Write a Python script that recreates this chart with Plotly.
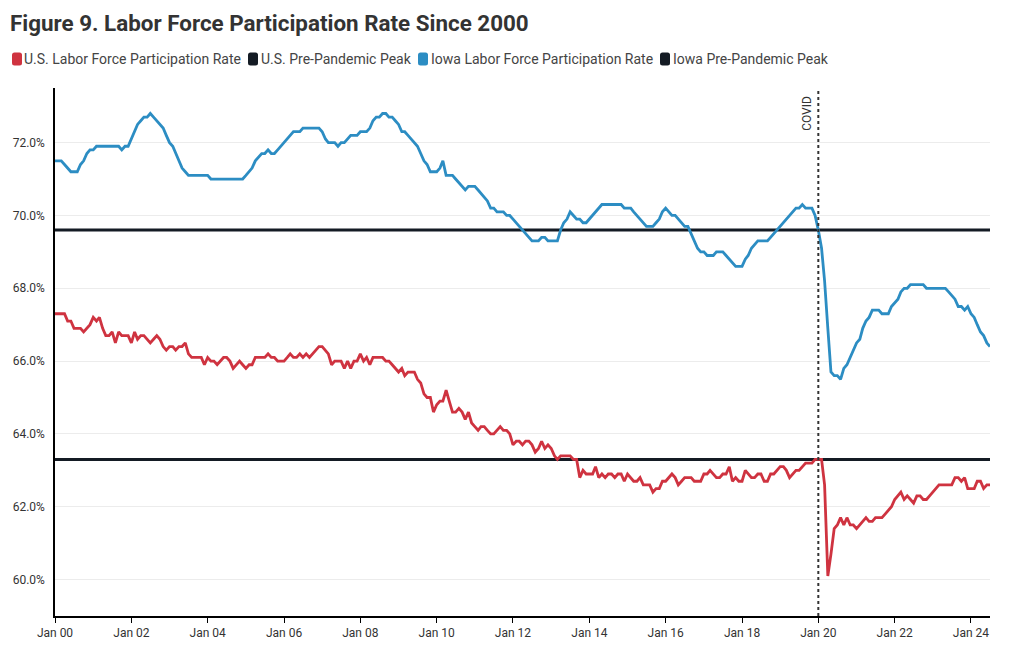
import pandas as pd
import plotly.graph_objects as go

# ---------------- data ----------------
start_month = "2000-01-01"

us_lfpr = [
    67.3, 67.3, 67.3, 67.3, 67.1, 67.1, 66.9, 66.9, 66.9, 66.8, 66.9, 67.0,  # 2000
    67.2, 67.1, 67.2, 66.9, 66.7, 66.7, 66.8, 66.5, 66.8, 66.7, 66.7, 66.7,  # 2001
    66.5, 66.8, 66.6, 66.7, 66.7, 66.6, 66.5, 66.6, 66.7, 66.6, 66.4, 66.3,  # 2002
    66.4, 66.4, 66.3, 66.4, 66.4, 66.5, 66.2, 66.1, 66.1, 66.1, 66.1, 65.9,  # 2003
    66.1, 66.0, 66.0, 65.9, 66.0, 66.1, 66.1, 66.0, 65.8, 65.9, 66.0, 65.9,  # 2004
    65.8, 65.9, 65.9, 66.1, 66.1, 66.1, 66.1, 66.2, 66.1, 66.1, 66.0, 66.0,  # 2005
    66.0, 66.1, 66.2, 66.1, 66.1, 66.2, 66.1, 66.2, 66.1, 66.2, 66.3, 66.4,  # 2006
    66.4, 66.3, 66.2, 65.9, 66.0, 66.0, 66.0, 65.8, 66.0, 65.8, 66.0, 66.0,  # 2007
    66.2, 66.0, 66.1, 65.9, 66.1, 66.1, 66.1, 66.1, 66.0, 66.0, 65.9, 65.8,  # 2008
    65.7, 65.8, 65.6, 65.7, 65.7, 65.7, 65.5, 65.4, 65.1, 65.0, 65.0, 64.6,  # 2009
    64.8, 64.9, 64.9, 65.2, 64.9, 64.6, 64.6, 64.7, 64.6, 64.4, 64.6, 64.3,  # 2010
    64.2, 64.1, 64.2, 64.2, 64.1, 64.0, 64.0, 64.1, 64.2, 64.1, 64.1, 64.0,  # 2011
    63.7, 63.8, 63.8, 63.7, 63.8, 63.8, 63.7, 63.5, 63.6, 63.8, 63.6, 63.7,  # 2012
    63.6, 63.4, 63.3, 63.4, 63.4, 63.4, 63.4, 63.3, 63.3, 62.8, 63.0, 62.9,  # 2013
    62.9, 62.9, 63.1, 62.8, 62.9, 62.8, 62.9, 62.9, 62.8, 62.9, 62.9, 62.7,  # 2014
    62.9, 62.8, 62.7, 62.7, 62.8, 62.6, 62.6, 62.6, 62.4, 62.5, 62.5, 62.7,  # 2015
    62.7, 62.8, 62.9, 62.8, 62.6, 62.7, 62.8, 62.8, 62.8, 62.7, 62.7, 62.7,  # 2016
    62.9, 62.9, 63.0, 62.9, 62.8, 62.8, 62.9, 62.9, 63.1, 62.7, 62.8, 62.7,  # 2017
    62.7, 63.0, 62.9, 62.8, 62.8, 62.9, 62.9, 62.7, 62.7, 62.9, 62.9, 63.0,  # 2018
    63.1, 63.1, 63.0, 62.8, 62.9, 63.0, 63.0, 63.1, 63.2, 63.2, 63.2, 63.3,  # 2019
    63.3, 63.3, 62.6, 60.1, 60.7, 61.4, 61.5, 61.7, 61.5, 61.7, 61.5, 61.5,  # 2020
    61.4, 61.5, 61.6, 61.7, 61.6, 61.6, 61.7, 61.7, 61.7, 61.8, 61.9, 62.0,  # 2021
    62.2, 62.3, 62.4, 62.2, 62.3, 62.2, 62.1, 62.3, 62.3, 62.2, 62.2, 62.3,  # 2022
    62.4, 62.5, 62.6, 62.6, 62.6, 62.6, 62.6, 62.8, 62.8, 62.7, 62.8, 62.5,  # 2023
    62.5, 62.5, 62.7, 62.7, 62.5, 62.6, 62.6,                                # 2024
]

iowa_lfpr = [
    71.5, 71.5, 71.5, 71.4, 71.3, 71.2, 71.2, 71.2, 71.4, 71.5, 71.7, 71.8,  # 2000
    71.8, 71.9, 71.9, 71.9, 71.9, 71.9, 71.9, 71.9, 71.9, 71.8, 71.9, 71.9,  # 2001
    72.1, 72.3, 72.5, 72.6, 72.7, 72.7, 72.8, 72.7, 72.6, 72.5, 72.4, 72.2,  # 2002
    72.0, 71.9, 71.7, 71.5, 71.3, 71.2, 71.1, 71.1, 71.1, 71.1, 71.1, 71.1,  # 2003
    71.1, 71.0, 71.0, 71.0, 71.0, 71.0, 71.0, 71.0, 71.0, 71.0, 71.0, 71.0,  # 2004
    71.1, 71.2, 71.3, 71.5, 71.6, 71.7, 71.7, 71.8, 71.7, 71.7, 71.8, 71.9,  # 2005
    72.0, 72.1, 72.2, 72.3, 72.3, 72.3, 72.4, 72.4, 72.4, 72.4, 72.4, 72.4,  # 2006
    72.3, 72.1, 72.0, 72.0, 72.0, 71.9, 72.0, 72.0, 72.1, 72.2, 72.2, 72.2,  # 2007
    72.3, 72.3, 72.3, 72.4, 72.6, 72.7, 72.7, 72.8, 72.8, 72.7, 72.7, 72.6,  # 2008
    72.5, 72.3, 72.3, 72.2, 72.1, 72.0, 71.9, 71.7, 71.5, 71.4, 71.2, 71.2,  # 2009
    71.2, 71.3, 71.5, 71.1, 71.1, 71.1, 71.0, 70.9, 70.8, 70.7, 70.8, 70.8,  # 2010
    70.8, 70.7, 70.6, 70.5, 70.4, 70.2, 70.2, 70.1, 70.1, 70.1, 70.0, 70.0,  # 2011
    69.9, 69.8, 69.7, 69.6, 69.5, 69.4, 69.3, 69.3, 69.3, 69.4, 69.4, 69.3,  # 2012
    69.3, 69.3, 69.3, 69.6, 69.8, 69.9, 70.1, 70.0, 69.9, 69.9, 69.8, 69.8,  # 2013
    69.9, 70.0, 70.1, 70.2, 70.3, 70.3, 70.3, 70.3, 70.3, 70.3, 70.3, 70.2,  # 2014
    70.2, 70.2, 70.1, 70.0, 69.9, 69.8, 69.7, 69.7, 69.7, 69.8, 69.9, 70.1,  # 2015
    70.2, 70.1, 70.0, 70.0, 69.9, 69.8, 69.7, 69.7, 69.5, 69.3, 69.1, 69.0,  # 2016
    69.0, 68.9, 68.9, 68.9, 69.0, 69.0, 69.0, 68.9, 68.8, 68.7, 68.6, 68.6,  # 2017
    68.6, 68.8, 68.9, 69.1, 69.2, 69.3, 69.3, 69.3, 69.3, 69.4, 69.5, 69.6,  # 2018
    69.7, 69.8, 69.9, 70.0, 70.1, 70.2, 70.2, 70.3, 70.2, 70.2, 70.2, 70.0,  # 2019
    69.6, 69.1, 68.2, 66.9, 65.7, 65.6, 65.6, 65.5, 65.8, 65.9, 66.1, 66.3,  # 2020
    66.5, 66.6, 66.9, 67.1, 67.2, 67.4, 67.4, 67.4, 67.3, 67.3, 67.3, 67.5,  # 2021
    67.6, 67.7, 67.9, 68.0, 68.0, 68.1, 68.1, 68.1, 68.1, 68.1, 68.0, 68.0,  # 2022
    68.0, 68.0, 68.0, 68.0, 68.0, 67.9, 67.8, 67.7, 67.5, 67.5, 67.4, 67.5,  # 2023
    67.3, 67.2, 67.0, 66.8, 66.7, 66.5, 66.4,                                # 2024
]

us_peak = 63.3
iowa_peak = 69.6
covid_date = "2020-01-01"
y_ticks = [60, 62, 64, 66, 68, 70, 72]

series_names = [
    "U.S. Labor Force Participation Rate",
    "U.S. Pre-Pandemic Peak",
    "Iowa Labor Force Participation Rate",
    "Iowa Pre-Pandemic Peak",
]

# ---------------- styling / layout ----------------
RED = "#cf3340"
BLUE = "#2c8dc3"
DARK = "#141b24"
FONT = "Roboto, 'Noto Sans', sans-serif"
TEXT = "#333333"

W, H = 1020, 650
ML, MR, MT, MB = 55, 30, 88, 34
PW, PH = W - ML - MR, H - MT - MB


def paper_x(px):
    return (px - ML) / PW


def paper_y(py):
    return (H - MB - py) / PH


months = pd.date_range(start_month, periods=len(us_lfpr), freq="MS")
x_ends = [months[0], months[-1]]

fig = go.Figure()

# peak reference lines
fig.add_trace(go.Scatter(x=x_ends, y=[us_peak, us_peak], mode="lines",
                         line=dict(color=DARK, width=3),
                         name=series_names[1], hoverinfo="skip"))
fig.add_trace(go.Scatter(x=x_ends, y=[iowa_peak, iowa_peak], mode="lines",
                         line=dict(color=DARK, width=3),
                         name=series_names[3], hoverinfo="skip"))

# series
fig.add_trace(go.Scatter(x=months, y=us_lfpr, mode="lines",
                         line=dict(color=RED, width=2.8),
                         name=series_names[0]))
fig.add_trace(go.Scatter(x=months, y=iowa_lfpr, mode="lines",
                         line=dict(color=BLUE, width=2.8),
                         name=series_names[2]))

# legend row (swatch + label) drawn in the header, like the original
legend_colors = [RED, DARK, BLUE, DARK]
legend_swatch_left = [12, 248, 418, 660]
legend_text_left = [24, 261, 431, 673]
sw_w, sw_top, sw_bot, rad = 10, 52.5, 65.5, 2.5
for name, color, sx, tx in zip(series_names, legend_colors,
                               legend_swatch_left, legend_text_left):
    x0, x1 = sx, sx + sw_w
    pts = [
        (x0 + rad, sw_top), (x1 - rad, sw_top), (x1, sw_top), (x1, sw_top + rad),
        (x1, sw_bot - rad), (x1, sw_bot), (x1 - rad, sw_bot), (x0 + rad, sw_bot),
        (x0, sw_bot), (x0, sw_bot - rad), (x0, sw_top + rad), (x0, sw_top),
        (x0 + rad, sw_top),
    ]
    P = [(paper_x(a), paper_y(b)) for a, b in pts]
    path = (f"M{P[0][0]},{P[0][1]} L{P[1][0]},{P[1][1]} "
            f"Q{P[2][0]},{P[2][1]} {P[3][0]},{P[3][1]} L{P[4][0]},{P[4][1]} "
            f"Q{P[5][0]},{P[5][1]} {P[6][0]},{P[6][1]} L{P[7][0]},{P[7][1]} "
            f"Q{P[8][0]},{P[8][1]} {P[9][0]},{P[9][1]} L{P[10][0]},{P[10][1]} "
            f"Q{P[11][0]},{P[11][1]} {P[12][0]},{P[12][1]} Z")
    fig.add_shape(type="path", path=path, xref="paper", yref="paper",
                  fillcolor=color, line=dict(width=0))
    fig.add_annotation(x=paper_x(tx - 2), y=paper_y(59), xref="paper", yref="paper",
                       text=name, showarrow=False, xanchor="left", yanchor="middle",
                       font=dict(family=FONT, size=14, color="#444444"))

# COVID marker
fig.add_shape(type="line", x0=covid_date, x1=covid_date, xref="x",
              y0=0, y1=1, yref="paper",
              line=dict(color="#333333", width=2, dash="dot"))
fig.add_annotation(x=covid_date, xref="x", y=1, yref="paper", text="COVID",
                   textangle=-90, showarrow=False, xanchor="right",
                   yanchor="top", xshift=-3, yshift=-6,
                   font=dict(family=FONT, size=12, color=TEXT))

fig.update_layout(
    width=W, height=H,
    paper_bgcolor="white", plot_bgcolor="white",
    margin=dict(l=ML, r=MR, t=MT, b=MB, autoexpand=False),
    font=dict(family=FONT, size=12, color=TEXT),
    title=dict(text="<b>Figure 9. Labor Force Participation Rate Since 2000</b>",
               x=10 / W, xanchor="left", xref="container",
               y=1 - 23 / H, yanchor="middle", yref="container",
               font=dict(family=FONT, size=22.4, color=TEXT)),
    showlegend=False,
    hovermode=False,
)

fig.update_xaxes(
    type="date", range=["2000-01-01", "2024-07-01"],
    tick0="2000-01-01", dtick="M24", tickformat="%b %y",
    ticks="outside", ticklen=5, tickcolor="#000000", tickwidth=1,
    showline=True, linecolor="#000000", linewidth=1.5,
    showgrid=False, zeroline=False,
    tickfont=dict(family=FONT, size=12, color=TEXT),
)

fig.update_yaxes(
    range=[59, 73.5], tickvals=y_ticks,
    ticktext=[f"{v:.1f}%" for v in y_ticks],
    ticks="outside", ticklen=6, tickcolor="rgba(0,0,0,0)",
    showline=True, linecolor="#000000", linewidth=1.5,
    showgrid=True, gridcolor="#ececec", gridwidth=1, zeroline=False,
    tickfont=dict(family=FONT, size=12, color=TEXT),
)

fig.write_html(
    "out.html",
    config={"displayModeBar": False},
    post_script="document.body.style.margin='0';document.body.style.padding='0';",
)
